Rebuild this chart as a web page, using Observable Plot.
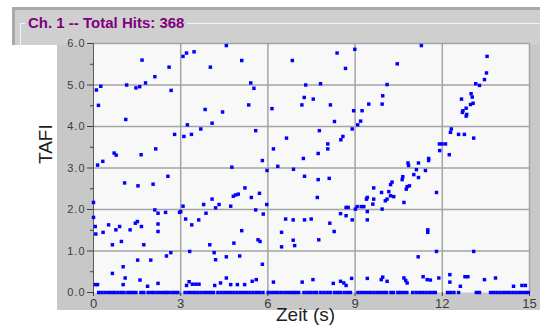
<!DOCTYPE html>
<html>
<head>
<meta charset="utf-8">
<script src="https://cdn.jsdelivr.net/npm/d3@7"></script>
<script src="https://cdn.jsdelivr.net/npm/@observablehq/plot@0.6"></script>
<style>
  html, body { margin: 0; padding: 0; background: #ffffff; }
  #chart { position: relative; width: 540px; height: 329px; overflow: hidden;
           font-family: "Liberation Sans", Arial, sans-serif; }
  .panel { position: absolute; box-sizing: border-box; }
  #window { left: 12px; top: 7px; width: 528px; height: 38px; background: #cfcfcf;
            border-top: 3px solid #a3abab; border-left: 3px solid #a3abab; }
  #group { left: 20px; top: 23px; width: 520px; height: 22px;
           border-top: 1px solid #f4f4f4; border-left: 1px solid #f4f4f4; }
  #title { left: 25px; top: 14px; padding: 0 3px; background: #cfcfcf; color: #800080;
           font-weight: bold; font-size: 15px; line-height: 18px; white-space: nowrap; }
  #panel { left: 57px; top: 45px; width: 483px; height: 265px; background: #c8c8c8; }
  #plot { position: absolute; left: 0; top: 0; }
  #plot g[aria-label="y-axis tick label"] text { letter-spacing: 1px; }
</style>
</head>
<body>
<div id="chart">
  <div class="panel" id="window"></div>
  <div class="panel" id="group"></div>
  <div class="panel" id="panel"></div>
  <div id="plot"></div>
  <div class="panel" id="title">Ch. 1 -- Total Hits: 368</div>
</div>
<script>
// Hits above the baseline: time (s) and TAFI value, pairwise.
const hitTime = [
  0.00, 0.00, 0.06, 0.08, 0.10, 0.25, 0.17, 0.14, 0.32, 0.33, 0.52, 0.65, 0.71, 0.78, 0.77, 0.90,
  0.96, 1.07, 1.11, 1.14, 1.26, 1.44, 1.51, 1.46, 1.59, 1.53, 1.64, 1.65, 1.67, 1.73, 1.79, 2.05,
  2.11, 2.11, 2.14, 2.22, 2.22, 2.22, 2.48, 2.56, 2.60, 2.67, 2.79, 2.96, 2.51, 2.66, 1.52, 1.97,
  0.65, 1.02, 1.09, 1.60, 1.86, 2.22, 0.06, 0.14, 1.02,
  3.08, 3.20, 3.46, 4.02, 4.57, 5.10, 5.41, 5.52, 3.84, 4.44, 5.34, 4.08, 3.23, 3.69, 3.11, 3.37,
  5.58, 5.81, 5.97, 4.76, 5.21, 4.89, 4.98, 4.81, 5.43, 5.71, 4.08, 3.79, 3.08, 3.00, 4.32, 4.20,
  4.72, 3.87, 5.58, 5.84, 5.96, 3.17, 3.38, 3.62, 5.10, 5.66, 5.73, 4.83, 4.00, 3.31, 4.15, 4.20,
  4.57, 5.03, 5.81, 3.20, 3.29, 3.40, 3.52, 3.63, 4.17, 4.37, 4.57, 4.72, 4.95, 5.20, 5.46, 5.60,
  6.84, 8.38, 8.99, 8.67, 7.30, 7.81, 7.25, 7.56, 6.14, 7.17, 8.15, 8.95, 8.29, 8.90, 7.77, 6.64,
  8.58, 8.51, 8.06, 8.06, 6.19, 7.73, 7.22, 6.34, 6.88, 7.26, 7.73, 8.11, 7.70, 6.61, 6.87, 7.26,
  7.49, 8.13, 8.28, 8.50, 8.69, 8.76, 8.69, 8.90, 6.47, 6.47, 6.87, 6.92, 7.75, 6.19, 7.18, 7.55,
  8.25, 8.50, 8.61, 8.69, 8.88,
  11.28, 10.45, 10.10, 9.95, 9.93, 9.47, 9.24, 9.19, 9.09, 11.90, 11.99, 12.11, 11.91, 12.24, 11.53, 11.53,
  11.18, 10.82, 10.84, 11.11, 11.42, 11.02, 11.18, 10.64, 10.62, 10.27, 10.22, 9.64, 9.91, 10.16, 10.22, 10.33,
  10.10, 10.79, 10.87, 10.76, 9.42, 9.39, 9.64, 10.04, 10.68, 9.61, 9.07, 9.21, 9.30, 9.01, 9.93, 9.42,
  9.42, 11.80, 11.50, 11.50, 11.80, 11.17, 9.42, 9.90, 9.95, 10.10, 10.68, 10.79, 10.74, 11.34, 11.48, 11.59,
  11.88,
  13.54, 13.52, 13.45, 13.15, 13.28, 12.66, 12.99, 13.03, 12.97, 13.06, 12.82, 12.71, 12.69, 12.84, 12.82, 12.31,
  12.28, 12.56, 12.76, 13.08, 13.08, 12.26, 12.26, 12.62, 12.78, 12.88, 13.45, 13.83, 14.45, 14.74, 14.86
];
const hitTafi = [
  2.17, 1.81, 1.59, 1.41, 4.88, 4.97, 4.51, 3.07, 3.16, 1.45, 1.63, 1.15, 3.36, 3.31, 1.51, 1.59,
  1.23, 2.64, 4.17, 5.00, 1.51, 1.67, 1.71, 4.93, 4.96, 2.57, 3.32, 1.59, 5.60, 1.15, 5.05, 2.61,
  1.99, 5.20, 3.46, 1.91, 1.65, 1.47, 1.93, 2.80, 5.43, 4.87, 3.81, 1.93, 0.88, 0.96, 0.78, 0.78,
  0.46, 0.62, 0.35, 0.30, 0.15, 0.22, 0.19, 0.19, 0.19,
  5.69, 5.77, 5.80, 5.43, 5.95, 5.59, 5.05, 4.92, 4.41, 4.35, 4.52, 4.08, 4.04, 3.94, 3.76, 3.81,
  3.90, 3.18, 2.94, 3.02, 2.52, 2.35, 2.37, 2.32, 2.29, 2.39, 2.25, 2.12, 2.08, 1.95, 2.12, 2.04,
  2.08, 1.91, 1.99, 1.89, 2.12, 1.77, 1.63, 1.75, 1.49, 1.27, 1.23, 1.19, 1.15, 0.99, 0.96, 0.79,
  0.86, 0.88, 0.68, 0.17, 0.26, 0.20, 0.20, 0.20, 0.17, 0.23, 0.35, 0.19, 0.19, 0.19, 0.27, 0.31,
  5.59, 5.77, 5.86, 5.40, 5.00, 5.03, 4.70, 4.66, 4.43, 4.52, 4.52, 4.38, 4.12, 3.94, 3.90, 3.72,
  3.76, 3.68, 3.58, 3.46, 3.46, 3.35, 3.23, 3.04, 2.97, 2.80, 2.72, 2.75, 2.29, 1.77, 1.75, 1.75,
  1.77, 1.67, 1.47, 1.90, 2.05, 2.05, 1.85, 1.75, 1.45, 1.10, 1.26, 1.13, 1.27, 0.25, 0.25, 0.31,
  0.22, 0.27, 0.23, 0.17, 0.34,
  5.95, 5.51, 5.01, 4.74, 4.54, 4.54, 4.38, 4.13, 4.04, 3.58, 3.58, 3.58, 3.42, 3.32, 3.23, 3.18,
  3.12, 3.12, 3.06, 2.96, 2.94, 2.84, 2.77, 2.79, 2.72, 2.66, 2.60, 2.52, 2.41, 2.43, 2.33, 2.31,
  2.25, 2.55, 2.57, 2.49, 2.29, 2.25, 2.25, 2.21, 2.17, 2.13, 2.07, 2.07, 2.07, 2.01, 2.01, 1.95,
  1.75, 2.41, 1.51, 1.45, 0.99, 0.86, 0.34, 0.31, 0.37, 0.27, 0.35, 0.23, 0.29, 0.38, 0.31, 0.30,
  0.35,
  5.69, 5.29, 5.13, 5.03, 4.99, 4.66, 4.79, 4.71, 4.53, 4.56, 4.44, 4.38, 4.34, 4.29, 4.25, 3.94,
  3.86, 3.81, 3.81, 3.72, 0.99, 0.43, 0.25, 0.15, 0.38, 0.38, 0.31, 0.35, 0.15, 0.17, 0.17
];
// Hits on the baseline (TAFI 0.0), time in s.
const baselineTime = [
  0.18, 0.29, 0.40, 0.51, 0.62, 0.73, 0.84, 0.95, 1.05, 1.18, 1.28, 1.37, 1.46, 1.63, 1.73, 1.88,
  1.99, 2.08, 2.19, 2.30, 2.41, 2.50, 2.59, 2.70, 2.80, 2.90, 3.15, 3.26, 3.37, 3.48, 3.59, 3.70,
  3.81, 3.92, 4.03, 4.13, 4.28, 4.39, 4.50, 4.61, 4.72, 4.83, 4.94, 5.05, 5.16, 5.27, 5.38, 5.49,
  5.60, 5.71, 5.83, 6.01, 6.12, 6.23, 6.34, 6.45, 6.56, 6.67, 6.78, 6.88, 6.96, 7.06, 7.24, 7.35,
  7.46, 7.58, 7.68, 7.82, 7.93, 8.04, 8.15, 8.29, 8.40, 8.49, 8.62, 8.73, 8.84, 9.10, 9.21, 9.32,
  9.43, 9.54, 9.65, 9.76, 9.87, 9.98, 10.08, 10.23, 10.32, 10.47, 10.56, 10.67, 10.78, 10.98, 11.10, 11.22,
  11.33, 11.44, 11.55, 11.66, 11.76, 12.18, 12.29, 12.40, 12.56, 13.17, 13.28, 13.66, 13.77, 13.88, 13.99, 14.10,
  14.21, 14.32, 14.43, 14.54, 14.65, 14.76, 14.87, 14.96
];
const xTicks = [0, 3, 6, 9, 12, 15];
const yTicks = [0, 1, 2, 3, 4, 5, 6];
const yMinorTicks = [0.5, 1.5, 2.5, 3.5, 4.5, 5.5];
const xLabel = "Zeit (s)";
const yLabel = "TAFI";

const hits = hitTime.map((t, i) => ({t, v: hitTafi[i]}))
  .concat(baselineTime.map(t => ({t, v: 0})));

const gridStyle = {stroke: "#a4a4a4", strokeOpacity: 1, strokeWidth: 1.5};

const chart = Plot.plot({
  width: 540,
  height: 329,
  marginLeft: 93,
  marginRight: 11,
  marginTop: 43,
  marginBottom: 37,
  style: {background: "transparent", color: "#3c3c3c", overflow: "visible",
          fontFamily: "'Liberation Sans', Arial, sans-serif"},
  x: {domain: [0, 15]},
  y: {domain: [0, 6]},
  marks: [
    Plot.frame({fill: "#f8f8f8", stroke: null}),
    Plot.gridX({ticks: xTicks.slice(1), ...gridStyle}),
    Plot.gridY({ticks: yTicks.slice(1), ...gridStyle}),
    Plot.ruleX([0], {stroke: "#5a5a5a"}),
    Plot.axisX({ticks: xTicks, tickSize: 4, tickPadding: 2, fontSize: 13, label: null,
                tickFormat: d => String(d)}),
    Plot.axisY({ticks: yTicks, tickSize: 6, tickPadding: 2, fontSize: 11, label: null,
                tickFormat: d => d.toFixed(1)}),
    Plot.axisY({ticks: yMinorTicks, tickSize: 3, tickFormat: () => "", label: null}),
    Plot.dot(hits, {x: "t", y: "v", symbol: "square", r: 1.95, fill: "#0000ff", stroke: null}),
    Plot.text([yLabel], {frameAnchor: "left", dx: -48, dy: -4, rotate: -90,
                         fontSize: 19, fill: "#1e1e1e"}),
    Plot.text([xLabel], {frameAnchor: "bottom", dx: -6, dy: 28,
                         fontSize: 19, fill: "#1e1e1e"})
  ]
});
document.getElementById("plot").append(chart);
</script>
</body>
</html>
